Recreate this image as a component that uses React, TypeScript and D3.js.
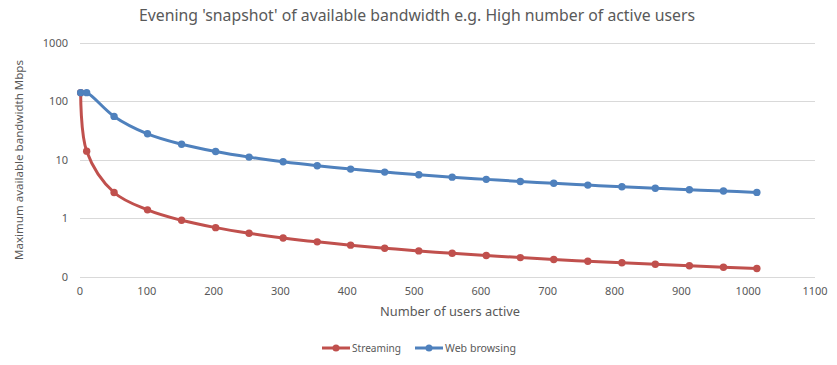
import React, { useEffect, useRef } from 'react'
import * as d3 from 'd3'

// number of active users
const users = [1, 10, 51, 101, 152, 203, 253, 304, 355, 405, 456, 507, 557, 608, 659, 709, 760, 811, 861, 912, 963, 1013]
// max available bandwidth, Mbps
const streaming = [140, 14, 2.75, 1.39, 0.92, 0.69, 0.553, 0.46, 0.394, 0.346, 0.307, 0.276, 0.251, 0.23, 0.212, 0.197, 0.184, 0.173, 0.163, 0.154, 0.145, 0.138]
const webBrowsing = [140, 140, 55, 27.7, 18.4, 13.8, 11.07, 9.21, 7.89, 6.91, 6.14, 5.52, 5.03, 4.61, 4.25, 3.95, 3.68, 3.45, 3.25, 3.07, 2.91, 2.76]

const xTicks = [0, 100, 200, 300, 400, 500, 600, 700, 800, 900, 1000, 1100]
const yTicks = [0.1, 1, 10, 100, 1000]

const series = [
  { name: 'Streaming', values: streaming, color: '#C0504D' },
  { name: 'Web browsing', values: webBrowsing, color: '#4F81BD' }
]

const App: React.FC = () => {
  const svgRef = useRef<SVGSVGElement | null>(null)

  useEffect(() => {
    if (!svgRef.current) return
    const svg = d3.select(svgRef.current)
    svg.selectAll('*').remove()

    const width = 837
    const height = 365
    const font = "'Noto Sans', 'Open Sans', sans-serif"
    const textColor = '#595959'

    const x = d3.scaleLinear().domain([0, 1100]).range([80, 815])
    const y = d3.scaleLog().domain([0.1, 1000]).range([276.7, 42.7])
    const fmt = d3.format('.0f')

    svg.attr('width', width).attr('height', height).style('font-family', font)

    svg.append('rect').attr('width', width).attr('height', height).attr('fill', '#fff')

    // title
    svg
      .append('text')
      .attr('x', 417)
      .attr('y', 21)
      .attr('text-anchor', 'middle')
      .attr('fill', textColor)
      .attr('font-size', 16)
      .attr('textLength', 556)
      .attr('lengthAdjust', 'spacingAndGlyphs')
      .text("Evening 'snapshot' of available bandwidth e.g. High number of active users")

    // gridlines
    svg
      .append('g')
      .selectAll('line')
      .data(yTicks)
      .join('line')
      .attr('x1', x(0))
      .attr('x2', x(1100))
      .attr('y1', (d) => Math.round(y(d)) + 0.5)
      .attr('y2', (d) => Math.round(y(d)) + 0.5)
      .attr('stroke', '#D9D9D9')
      .attr('stroke-width', 1)

    // y tick labels
    svg
      .append('g')
      .selectAll('text')
      .data(yTicks)
      .join('text')
      .attr('x', 68)
      .attr('y', (d) => y(d))
      .attr('dy', '0.35em')
      .attr('text-anchor', 'end')
      .attr('font-size', 11)
      .attr('fill', textColor)
      .text((d) => fmt(d))

    // x tick labels
    svg
      .append('g')
      .selectAll('text')
      .data(xTicks)
      .join('text')
      .attr('x', (d) => x(d))
      .attr('y', 291)
      .attr('dy', '0.35em')
      .attr('text-anchor', 'middle')
      .attr('font-size', 11)
      .attr('fill', textColor)
      .text((d) => d)

    // axis titles
    svg
      .append('text')
      .attr('x', 450)
      .attr('y', 312)
      .attr('dy', '0.35em')
      .attr('text-anchor', 'middle')
      .attr('font-size', 12)
      .attr('fill', textColor)
      .attr('textLength', 140)
      .attr('lengthAdjust', 'spacingAndGlyphs')
      .text('Number of users active')

    svg
      .append('text')
      .attr('transform', 'translate(19,160) rotate(-90)')
      .attr('dy', '0.35em')
      .attr('text-anchor', 'middle')
      .attr('font-size', 11)
      .attr('fill', textColor)
      .attr('textLength', 200)
      .attr('lengthAdjust', 'spacingAndGlyphs')
      .text('Maximum available bandwidth Mbps')

    // lines + markers
    const line = d3
      .line<number>()
      .x((_, i) => x(users[i]))
      .y((d) => y(d))
      .curve(d3.curveCatmullRom.alpha(0.5))

    series.forEach((s) => {
      const g = svg.append('g')
      g.append('path')
        .attr('d', line(s.values))
        .attr('fill', 'none')
        .attr('stroke', s.color)
        .attr('stroke-width', 3)
        .attr('stroke-linejoin', 'round')
      g.selectAll('circle')
        .data(s.values)
        .join('circle')
        .attr('cx', (_, i) => x(users[i]))
        .attr('cy', (d) => y(d))
        .attr('r', 3.7)
        .attr('fill', s.color)
    })

    // legend
    const legendItems = [
      { ...series[0], x0: 322, x1: 350, tx: 352, tl: 49 },
      { ...series[1], x0: 415, x1: 443, tx: 445, tl: 71 }
    ]
    const lg = svg.append('g')
    legendItems.forEach((l) => {
      lg.append('line')
        .attr('x1', l.x0)
        .attr('x2', l.x1)
        .attr('y1', 348)
        .attr('y2', 348)
        .attr('stroke', l.color)
        .attr('stroke-width', 3)
      lg.append('circle')
        .attr('cx', (l.x0 + l.x1) / 2)
        .attr('cy', 348)
        .attr('r', 3.5)
        .attr('fill', l.color)
      lg.append('text')
        .attr('x', l.tx)
        .attr('y', 348)
        .attr('dy', '0.35em')
        .attr('font-size', 10)
        .attr('fill', textColor)
        .attr('textLength', l.tl)
        .attr('lengthAdjust', 'spacingAndGlyphs')
        .text(l.name)
    })
  }, [])

  return (
    <svg
      ref={svgRef}
      style={{ position: 'absolute', left: 0, top: 0, display: 'block' }}
    ></svg>
  )
}

export default App
